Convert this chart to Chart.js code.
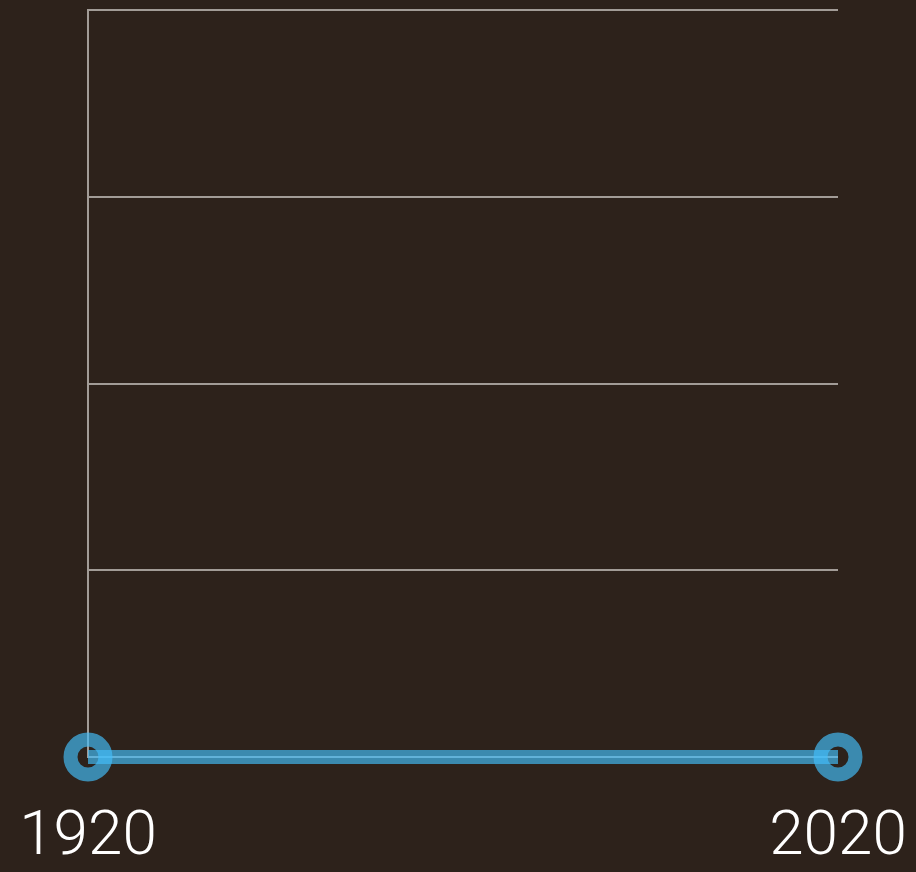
<!DOCTYPE html>
<html>
<head>
<meta charset="utf-8">
<script src="https://cdn.jsdelivr.net/npm/chart.js@4.4.1/dist/chart.umd.min.js"></script>
<style>
  html, body { margin: 0; padding: 0; background: #2d221b; }
  #wrap { width: 916px; height: 872px; position: relative; }
</style>
</head>
<body>
<div id="wrap"><canvas id="chart"></canvas></div>
<script>
  // chart data
  const years = ["1920", "2020"];
  const values = [0, 0];
  const yMin = 0;
  const yMax = 4;

  const gridColor = "#a29c97";
  const lineColor = "rgba(67, 189, 249, 0.67)";

  const ctx = document.getElementById("chart").getContext("2d");
  new Chart(ctx, {
    type: "line",
    data: {
      labels: years,
      datasets: [
        {
          data: values,
          borderColor: lineColor,
          borderWidth: 14,
          pointRadius: 17.5,
          pointBorderWidth: 14,
          pointBorderColor: lineColor,
          pointBackgroundColor: "rgba(0, 0, 0, 0)",
          clip: false,
        },
      ],
    },
    options: {
      responsive: true,
      maintainAspectRatio: false,
      animation: false,
      layout: {
        autoPadding: false,
        padding: { left: 88, right: 78, top: 10, bottom: 0 },
      },
      plugins: {
        legend: { display: false },
        tooltip: { enabled: false },
      },
      scales: {
        x: {
          grid: { display: false, drawTicks: false },
          border: { display: false },
          // fixed axis height, and the big labels must not push the plot inwards
          afterFit: (scale) => {
            scale.height = 115;
            scale.paddingLeft = 0;
            scale.paddingRight = 0;
          },
          ticks: {
            color: "#ffffff",
            padding: 44,
            maxRotation: 0,
            autoSkip: false,
            font: { family: "Roboto, 'Liberation Sans', sans-serif", size: 62, weight: "300" },
          },
        },
        y: {
          min: yMin,
          max: yMax,
          afterFit: (scale) => { scale.width = 0; },
          ticks: { display: false, stepSize: 1 },
          grid: { color: gridColor, lineWidth: 2, drawTicks: false },
          border: { display: true, color: gridColor, width: 2 },
        },
      },
    },
  });
</script>
</body>
</html>
